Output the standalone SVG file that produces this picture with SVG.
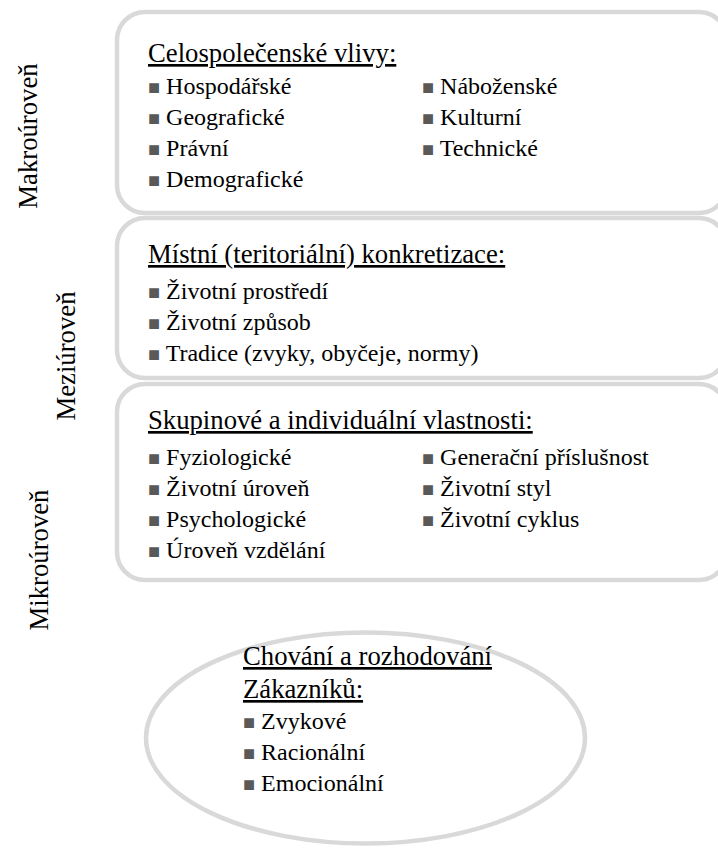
<svg xmlns="http://www.w3.org/2000/svg" width="718" height="848" viewBox="0 0 718 848">
<style>
.box{fill:#ffffff;stroke:#d9d9d9;stroke-width:4.5}
.t{font-family:'Liberation Serif','Times New Roman','DejaVu Serif',serif;font-size:24px;fill:#000}
.h{text-decoration:underline;font-size:26.7px}
.lab{font-size:26.7px}
.b{fill:#595959;font-size:20px}
</style>
<rect width="718" height="848" fill="#ffffff"/>
<g id="ellipse-node" class="t">
<ellipse class="box" cx="365.5" cy="738" rx="219.5" ry="105.5"/>
<text class="h" x="243" y="665">Chování a rozhodování</text>
<text class="h" x="243" y="698">Zákazníků:</text>
<text x="243" y="729"><tspan class="b">■</tspan> Zvykové</text>
<text x="243" y="760"><tspan class="b">■</tspan> Racionální</text>
<text x="243" y="791"><tspan class="b">■</tspan> Emocionální</text>
</g>
<g id="makro" class="t">
<rect class="box" x="117" y="12" width="610" height="201" rx="28"/>
<text class="h" x="148" y="62">Celospolečenské vlivy:</text>
<text x="148" y="94"><tspan class="b">■</tspan> Hospodářské</text>
<text x="148" y="125"><tspan class="b">■</tspan> Geografické</text>
<text x="148" y="156"><tspan class="b">■</tspan> Právní</text>
<text x="148" y="187"><tspan class="b">■</tspan> Demografické</text>
<text x="422" y="94"><tspan class="b">■</tspan> Náboženské</text>
<text x="422" y="125"><tspan class="b">■</tspan> Kulturní</text>
<text x="422" y="156"><tspan class="b">■</tspan> Technické</text>
</g>
<g id="mezi" class="t">
<rect class="box" x="117" y="218" width="610" height="160" rx="28"/>
<text class="h" x="148" y="263">Místní (teritoriální) konkretizace:</text>
<text x="148" y="299"><tspan class="b">■</tspan> Životní prostředí</text>
<text x="148" y="330"><tspan class="b">■</tspan> Životní způsob</text>
<text x="148" y="361"><tspan class="b">■</tspan> Tradice (zvyky, obyčeje, normy)</text>
</g>
<g id="mikro" class="t">
<rect class="box" x="117" y="384" width="610" height="196" rx="28"/>
<text class="h" x="148" y="429">Skupinové a individuální vlastnosti:</text>
<text x="148" y="465"><tspan class="b">■</tspan> Fyziologické</text>
<text x="148" y="496"><tspan class="b">■</tspan> Životní úroveň</text>
<text x="148" y="527"><tspan class="b">■</tspan> Psychologické</text>
<text x="148" y="558"><tspan class="b">■</tspan> Úroveň vzdělání</text>
<text x="422" y="465"><tspan class="b">■</tspan> Generační příslušnost</text>
<text x="422" y="496"><tspan class="b">■</tspan> Životní styl</text>
<text x="422" y="527"><tspan class="b">■</tspan> Životní cyklus</text>
</g>
<g id="labels" class="t">
<text class="lab" transform="translate(37,136) rotate(-90)" text-anchor="middle">Makroúroveň</text>
<text class="lab" transform="translate(75,356) rotate(-90)" text-anchor="middle">Meziúroveň</text>
<text class="lab" transform="translate(48,560) rotate(-90)" text-anchor="middle">Mikroúroveň</text>
</g>
<g id="connectors"></g>
</svg>
